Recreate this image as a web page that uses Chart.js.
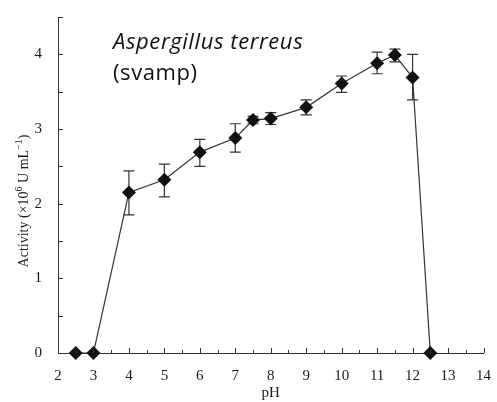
<!DOCTYPE html>
<html>
<head>
<meta charset="utf-8">
<script src="https://cdn.jsdelivr.net/npm/chart.js@4.4.0/dist/chart.umd.min.js"></script>
<style>
  html, body { margin: 0; padding: 0; background: #fff; }
  #wrap { width: 497px; height: 402px; }
</style>
</head>
<body>
<div id="wrap"><canvas id="myChart" width="497" height="402"></canvas></div>
<script>
// pH values and measured activity (x10^6 U/mL)
const phValues = [2.5, 3, 4, 5, 6, 7, 7.5, 8, 9, 10, 11, 11.5, 12, 12.5];
const activity = [0, 0, 2.15, 2.32, 2.69, 2.88, 3.12, 3.14, 3.29, 3.61, 3.88, 3.99, 3.69, 0];
const errLow  = [null, null, 1.85, 2.09, 2.50, 2.69, 3.07, 3.06, 3.19, 3.49, 3.74, 3.90, 3.39, null];
const errHigh = [null, null, 2.44, 2.53, 2.86, 3.07, 3.17, 3.22, 3.39, 3.71, 4.03, 4.07, 4.00, null];
const xTickLabels = [2, 3, 4, 5, 6, 7, 8, 9, 10, 11, 12, 13, 14];
const yTickLabels = [0, 1, 2, 3, 4];

const serif = '"Liberation Serif", "Times New Roman", serif';

const extras = {
    id: 'extras',
    beforeDatasetsDraw(chart) {
        const ctx = chart.ctx;
        const xs = chart.scales.x, ys = chart.scales.y;
        ctx.save();
        ctx.strokeStyle = '#333';
        ctx.lineWidth = 1.2;
        phValues.forEach((ph, i) => {
            if (errLow[i] == null) return;
            const px = xs.getPixelForValue(ph);
            const yl = ys.getPixelForValue(errLow[i]);
            const yh = ys.getPixelForValue(errHigh[i]);
            ctx.beginPath();
            ctx.moveTo(px, yl); ctx.lineTo(px, yh);
            ctx.moveTo(px - 5.5, yl); ctx.lineTo(px + 5.5, yl);
            ctx.moveTo(px - 5.5, yh); ctx.lineTo(px + 5.5, yh);
            ctx.stroke();
        });
        ctx.restore();
    },
    afterDraw(chart) {
        const ctx = chart.ctx;
        const xs = chart.scales.x, ys = chart.scales.y;
        const area = chart.chartArea;
        ctx.save();
        // inward tick marks
        ctx.strokeStyle = '#333';
        ctx.lineWidth = 1;
        ctx.beginPath();
        for (let v = 0.5; v <= 4.5; v += 0.5) {
            const py = Math.round(ys.getPixelForValue(v)) + 0.5;
            ctx.moveTo(area.left, py); ctx.lineTo(area.left + 5, py);
        }
        for (let v = 2.5; v <= 14; v += 0.5) {
            const px = Math.round(xs.getPixelForValue(v)) + 0.5;
            const len = Number.isInteger(v) ? 5 : 3;
            ctx.moveTo(px, area.bottom); ctx.lineTo(px, area.bottom - len);
        }
        ctx.stroke();

        // x axis title
        ctx.fillStyle = '#1a1a1a';
        ctx.font = '15px ' + serif;
        ctx.textAlign = 'center';
        ctx.textBaseline = 'middle';
        ctx.fillText('pH', (area.left + area.right) / 2, 393);

        // y axis title
        ctx.translate(24, 201);
        ctx.rotate(-Math.PI / 2);
        const parts = [['Activity (\u00d710', 0], ['6', 1], [' U mL', 0], ['\u22121', 1], [')', 0]];
        let total = 0;
        parts.forEach(p => {
            ctx.font = (p[1] ? '10px ' : '14px ') + serif;
            total += ctx.measureText(p[0]).width;
        });
        let x = -total / 2;
        ctx.textAlign = 'left';
        parts.forEach(p => {
            ctx.font = (p[1] ? '10px ' : '14px ') + serif;
            ctx.fillText(p[0], x, p[1] ? -5 : 0);
            x += ctx.measureText(p[0]).width;
        });
        ctx.restore();

        // species annotation
        ctx.save();
        ctx.fillStyle = '#111';
        ctx.textBaseline = 'alphabetic';
        ctx.letterSpacing = '0.6px';
        ctx.font = 'italic 22px "Open Sans", sans-serif';
        ctx.fillText('Aspergillus terreus', 113, 49);
        ctx.font = '22px "Open Sans", sans-serif';
        ctx.fillText('(svamp)', 113, 80);
        ctx.restore();
    }
};

const ctx = document.getElementById('myChart').getContext('2d');
const chart = new Chart(ctx, {
    type: 'scatter',
    data: {
        datasets: [{
            data: phValues.map((ph, i) => ({ x: ph, y: activity[i] })),
            showLine: true,
            borderColor: '#333',
            borderWidth: 1.2,
            pointStyle: 'rectRot',
            pointRadius: 7,
            pointHoverRadius: 7,
            pointBackgroundColor: '#111',
            pointBorderColor: '#111',
            pointBorderWidth: 0,
            clip: false
        }]
    },
    options: {
        responsive: false,
        animation: false,
        layout: { padding: { top: 15, right: 7, bottom: 0, left: 0 } },
        plugins: { legend: { display: false }, tooltip: { enabled: false } },
        scales: {
            x: {
                type: 'linear',
                min: 2, max: 14,
                grid: { display: false },
                border: { display: true, color: '#333', width: 1 },
                ticks: {
                    stepSize: 1,
                    autoSkip: false,
                    maxRotation: 0,
                    padding: 6,
                    color: '#1a1a1a',
                    font: { family: serif, size: 15 },
                    callback: v => xTickLabels.includes(v) ? String(v) : ''
                },
                afterFit: s => { s.height = 49; }
            },
            y: {
                min: 0, max: 4.5,
                grid: { display: false },
                border: { display: true, color: '#333', width: 1 },
                ticks: {
                    stepSize: 0.5,
                    autoSkip: false,
                    padding: 8,
                    color: '#1a1a1a',
                    font: { family: serif, size: 15 },
                    callback: v => yTickLabels.includes(v) ? String(v) : ''
                },
                afterFit: s => { s.width = 58; }
            }
        }
    },
    plugins: [extras]
});
</script>
</body>
</html>
